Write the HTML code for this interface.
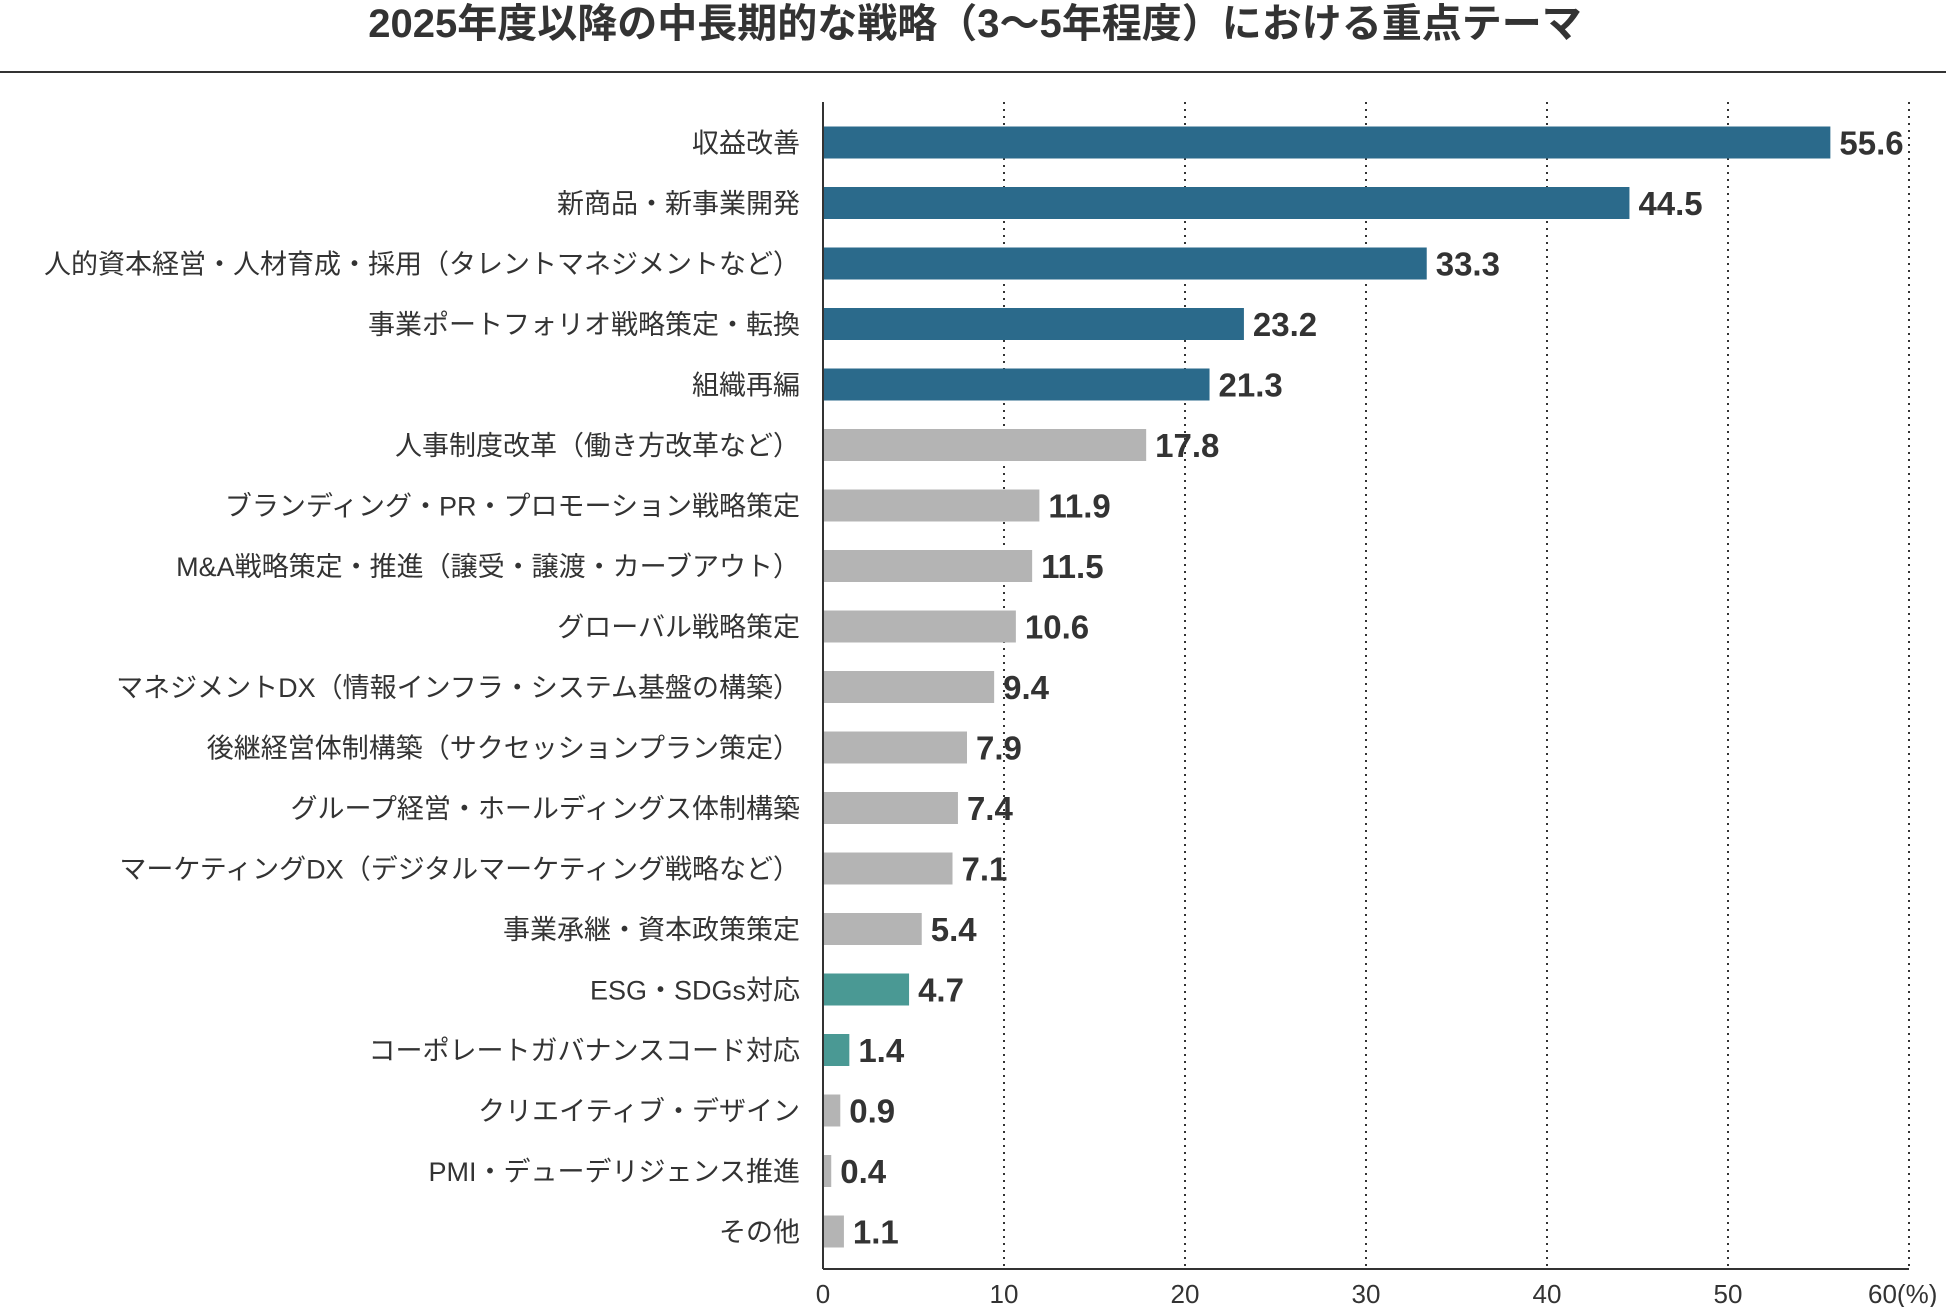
<!DOCTYPE html>
<html><head><meta charset="utf-8"><style>
body{margin:0;width:1950px;height:1307px;background:#fff;overflow:hidden;font-family:"Liberation Sans","Noto Sans CJK JP",sans-serif;}
</style></head><body>
<svg id="chart" width="1950" height="1307" xmlns="http://www.w3.org/2000/svg">
<text x="975" y="37" text-anchor="middle" font-size="40" font-weight="bold" fill="#333" font-family="Liberation Sans, Noto Sans CJK JP, sans-serif">2025年度以降の中長期的な戦略（3～5年程度）における重点テーマ</text>
<line x1="0" y1="72" x2="1946" y2="72" stroke="#333" stroke-width="2"/>
<g id="grid"></g><g id="bars"></g>
</svg>
<script>
const categories=["収益改善","新商品・新事業開発","人的資本経営・人材育成・採用（タレントマネジメントなど）","事業ポートフォリオ戦略策定・転換","組織再編","人事制度改革（働き方改革など）","ブランディング・PR・プロモーション戦略策定","M&A戦略策定・推進（譲受・譲渡・カーブアウト）","グローバル戦略策定","マネジメントDX（情報インフラ・システム基盤の構築）","後継経営体制構築（サクセッションプラン策定）","グループ経営・ホールディングス体制構築","マーケティングDX（デジタルマーケティング戦略など）","事業承継・資本政策策定","ESG・SDGs対応","コーポレートガバナンスコード対応","クリエイティブ・デザイン","PMI・デューデリジェンス推進","その他"];
const values=[55.6,44.5,33.3,23.2,21.3,17.8,11.9,11.5,10.6,9.4,7.9,7.4,7.1,5.4,4.7,1.4,0.9,0.4,1.1];
const groups=["a","a","a","a","a","b","b","b","b","b","b","b","b","b","c","c","b","b","b"];
const ticks=[0,10,20,30,40,50,60];
const colors={a:"#2b6a8b",b:"#b4b4b4",c:"#4a9994"};
const NS="http://www.w3.org/2000/svg";
const x0=823,pxPer=181/10,axisTop=102,axisBottom=1269,firstY=142.5,step=60.5,bh=32;
const X=v=>x0+v*pxPer;const Y=i=>firstY+i*step;
function mk(t,a,p){const e=document.createElementNS(NS,t);for(const k in a)e.setAttribute(k,a[k]);p.appendChild(e);return e;}
const grid=document.getElementById('grid'),bars=document.getElementById('bars');
ticks.forEach(t=>{
 if(t>0){const l=mk('line',{x1:X(t),y1:axisTop,x2:X(t),y2:axisBottom,stroke:'#333','stroke-width':2,'stroke-dasharray':'2,5'},grid);
 
 }
 const last=t===ticks[ticks.length-1];
 const tx=mk('text',{x:last?X(t)-41:X(t),y:1303,'text-anchor':last?'start':'middle','font-size':26,fill:'#333'},grid);
 tx.textContent=last?t+'(%)':String(t);
 
 
});
const ax=mk('line',{x1:x0,y1:axisTop,x2:x0,y2:axisBottom,stroke:'#333','stroke-width':2},grid);


const bx=mk('line',{x1:x0,y1:axisBottom,x2:X(60),y2:axisBottom,stroke:'#333','stroke-width':2},grid);


categories.forEach((c,i)=>{
 const y=Y(i);
 const r=mk('rect',{x:x0+1,y:y-bh/2,width:Math.max(values[i]*pxPer,1),height:bh,fill:colors[groups[i]]},bars);
 
 
 const lb=mk('text',{x:800,y:y+10,'text-anchor':'end','font-size':27,fill:'#333'},bars);lb.textContent=c;
 
 
 const vl=mk('text',{x:X(values[i])+10,y:y+12,'font-size':33,'font-weight':'bold',fill:'#333'},bars);vl.textContent=values[i].toFixed(1);
 
 
});
</script>
</body></html>
